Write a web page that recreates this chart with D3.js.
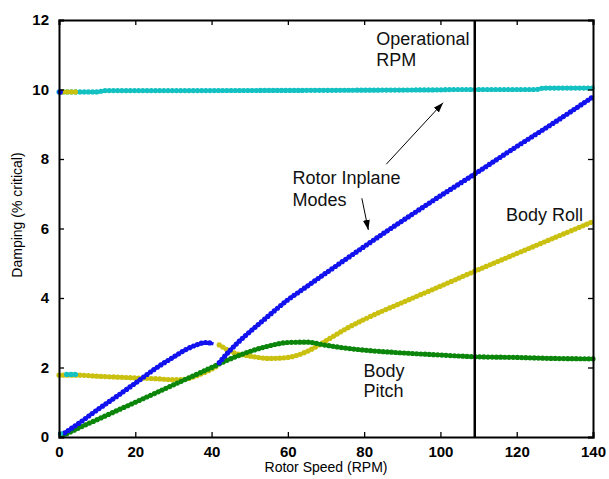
<!DOCTYPE html>
<html>
<head>
<meta charset="utf-8">
<script src="https://cdn.jsdelivr.net/npm/d3@7"></script>
<style>
  body { margin: 0; background: #fff; }
  svg { font-family: "Liberation Sans", Arial, sans-serif; }
</style>
</head>
<body>
<div id="chart"></div>
<script>
// values (rotor speed in RPM, damping in % critical)
var blueLowRpm = [1.5, 5, 10, 15, 20, 25, 30, 33, 36, 38.5, 40.5];
var blueLowVal = [0.12, 0.38, 0.78, 1.16, 1.55, 1.95, 2.3, 2.5, 2.65, 2.72, 2.68];
var blueHighRpm = [42, 44.9, 47, 49, 51, 54, 57, 60, 63, 70, 80, 84, 90, 100, 109, 120, 130, 140];
var blueHighVal = [2.14, 2.5, 2.73, 2.93, 3.12, 3.4, 3.68, 3.95, 4.18, 4.72, 5.48, 5.78, 6.22, 6.94, 7.57, 8.36, 9.06, 9.79];

var yellowLowRpm = [0, 5, 10, 18, 25, 30, 33, 35, 38, 40, 41.5];
var yellowLowVal = [1.78, 1.78, 1.75, 1.71, 1.68, 1.65, 1.66, 1.72, 1.85, 1.95, 2.05];
var yellowHighRpm = [42, 45.7, 50, 55.4, 60, 65, 70, 75, 80.7, 90, 100, 109, 120, 130, 140];
var yellowHighVal = [2.65, 2.43, 2.33, 2.26, 2.29, 2.46, 2.77, 3.1, 3.42, 3.87, 4.34, 4.77, 5.28, 5.74, 6.2];
var yellowTopRpm = [1, 4.5];
var yellowTopVal = [9.93, 9.93];

var greenRpm = [1, 5, 10, 20, 30, 35, 40, 45, 50, 55, 60, 65, 70, 75, 80, 90, 100, 109, 120, 130, 140];
var greenVal = [0.04, 0.25, 0.5, 1.0, 1.5, 1.75, 2.0, 2.25, 2.46, 2.62, 2.72, 2.73, 2.64, 2.56, 2.5, 2.42, 2.36, 2.31, 2.29, 2.26, 2.25];

var cyanRpm = [0, 10, 12, 30, 100, 103, 125, 127, 140];
var cyanVal = [9.93, 9.93, 9.97, 9.97, 9.99, 10.0, 10.0, 10.04, 10.04];
var cyanLowRpm = [2, 5];
var cyanLowVal = [1.8, 1.8];

var xTicks = [0, 20, 40, 60, 80, 100, 120, 140];
var yTicks = [0, 2, 4, 6, 8, 10, 12];
var operationalRpm = 109;

var width = 609, height = 479;
var plotLeft = 59, plotRight = 593, plotTop = 20, plotBottom = 437;

var x = d3.scaleLinear().domain([0, 140]).range([plotLeft, plotRight]);
var y = d3.scaleLinear().domain([0, 12]).range([plotBottom, plotTop]);

var svg = d3.select("#chart").append("svg")
    .attr("width", width)
    .attr("height", height);

svg.append("defs").append("marker")
    .attr("id", "head")
    .attr("viewBox", "0 0 10 10")
    .attr("refX", 10).attr("refY", 5)
    .attr("markerWidth", 10).attr("markerHeight", 10)
    .attr("markerUnits", "userSpaceOnUse")
    .attr("orient", "auto")
  .append("path")
    .attr("d", "M0,1.5 L10,5 L0,8.5 Z")
    .attr("fill", "#000");

var line = d3.line()
    .x(function (d) { return x(d[0]); })
    .y(function (d) { return y(d[1]); })
    .curve(d3.curveMonotoneX);

function pairs(a, b) {
    return a.map(function (v, i) { return [v, b[i]]; });
}

// dotted thick trace, like the marker strings of the original
function trace(rpm, val, color) {
    var pts = pairs(rpm, val);
    svg.append("path").datum(pts)
        .attr("d", line)
        .attr("fill", "none")
        .attr("stroke", color)
        .attr("stroke-width", 3.2);
    svg.append("path").datum(pts)
        .attr("d", line)
        .attr("fill", "none")
        .attr("stroke", color)
        .attr("stroke-width", 5.2)
        .attr("stroke-linecap", "round")
        .attr("stroke-dasharray", "0,4.2");
}

var blue = "#1212ee", green = "#0b860b", yellow = "#c9c010", cyan = "#13c0c2";

trace(yellowLowRpm, yellowLowVal, yellow);
trace(yellowHighRpm, yellowHighVal, yellow);
trace(greenRpm, greenVal, green);
trace(blueLowRpm, blueLowVal, blue);
trace(blueHighRpm, blueHighVal, blue);
trace(cyanRpm, cyanVal, cyan);
trace(yellowTopRpm, yellowTopVal, yellow);
trace(cyanLowRpm, cyanLowVal, cyan);

// single stray points at the left edge
svg.append("circle").attr("cx", x(0.3)).attr("cy", y(9.93)).attr("r", 2.8).attr("fill", blue);
svg.append("circle").attr("cx", x(0.4)).attr("cy", y(0.1)).attr("r", 2.6).attr("fill", cyan);

// operational RPM line
svg.append("line")
    .attr("x1", x(operationalRpm)).attr("x2", x(operationalRpm))
    .attr("y1", y(12)).attr("y2", y(0))
    .attr("stroke", "#000").attr("stroke-width", 2.5);

// axes, ticks point inward on all four sides
svg.append("g").attr("transform", "translate(0," + plotBottom + ")")
    .call(d3.axisBottom(x).tickValues(xTicks).tickSize(-5).tickPadding(9).tickFormat(d3.format("d")));
svg.append("g").attr("transform", "translate(0," + plotTop + ")")
    .call(d3.axisTop(x).tickValues(xTicks).tickSize(-5).tickFormat(""));
svg.append("g").attr("transform", "translate(" + plotLeft + ",0)")
    .call(d3.axisLeft(y).tickValues(yTicks).tickSize(-5).tickPadding(10).tickFormat(d3.format("d")));
svg.append("g").attr("transform", "translate(" + plotRight + ",0)")
    .call(d3.axisRight(y).tickValues(yTicks).tickSize(-5).tickFormat(""));

svg.selectAll(".domain").attr("stroke", "#000").attr("stroke-width", 2);
svg.selectAll(".tick line").attr("stroke", "#000").attr("stroke-width", 1.3);
svg.selectAll(".tick text")
    .attr("fill", "#000")
    .style("font-size", "15px")
    .style("font-weight", "bold")
    .style("font-family", "'Liberation Sans', Arial, sans-serif");

// axis titles
svg.append("text")
    .attr("x", (plotLeft + plotRight) / 2).attr("y", 472)
    .attr("text-anchor", "middle")
    .style("font-size", "14px")
    .text("Rotor Speed (RPM)");
svg.append("text")
    .attr("transform", "translate(22,215) rotate(-90)")
    .attr("text-anchor", "middle")
    .style("font-size", "14px")
    .text("Damping (% critical)");

// annotations
function label(rpm, val, txt) {
    svg.append("text")
        .attr("x", x(rpm)).attr("y", y(val))
        .style("font-size", "18px")
        .attr("fill", "#111")
        .text(txt);
}
label(83.2, 11.28, "Operational");
label(83.2, 10.68, "RPM");
label(61.2, 7.27, "Rotor Inplane");
label(61.2, 6.66, "Modes");
label(117.2, 6.22, "Body Roll");
label(79.8, 1.735, "Body");
label(79.8, 1.16, "Pitch");

function arrow(r1, v1, r2, v2) {
    svg.append("line")
        .attr("x1", x(r1)).attr("y1", y(v1))
        .attr("x2", x(r2)).attr("y2", y(v2))
        .attr("stroke", "#000").attr("stroke-width", 1)
        .attr("marker-end", "url(#head)");
}
arrow(85.8, 7.85, 100.7, 9.62);
arrow(79.4, 6.87, 81.1, 5.96);
</script>
</body>
</html>
